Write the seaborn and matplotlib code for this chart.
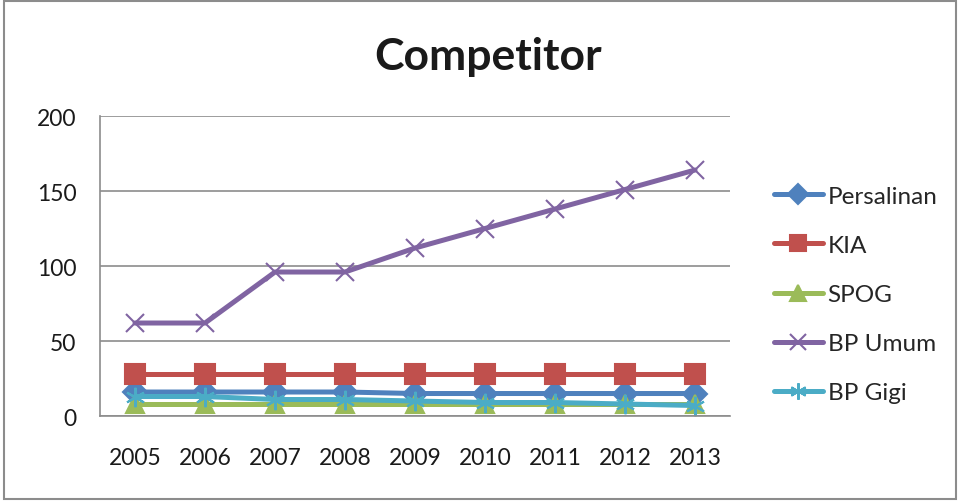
import matplotlib
matplotlib.use("Agg")
import matplotlib.pyplot as plt
import seaborn as sns
import pandas as pd
from matplotlib.patches import Rectangle

years = ["2005", "2006", "2007", "2008", "2009", "2010", "2011", "2012", "2013"]
persalinan = [16, 16, 16, 16, 15, 15, 15, 15, 15]
kia = [28, 28, 28, 28, 28, 28, 28, 28, 28]
spog = [8, 8, 8, 8, 8, 8, 8, 8, 8]
bp_umum = [62, 62, 96, 96, 112, 125, 138, 151, 164]
bp_gigi = [13, 13, 11, 11, 10, 9, 9, 8, 7]

series = [
    ("Persalinan", persalinan, "#4F81BD", "D", 12),
    ("KIA", kia, "#C0504D", "s", 14),
    ("SPOG", spog, "#9BBB59", "^", 13),
    ("BP Umum", bp_umum, "#8064A2", "x", 13),
    ("BP Gigi", bp_gigi, "#4BACC6", (6, 2, 0), 14),
]

sns.set_theme(style="white")
plt.rcParams["font.family"] = ["Lato", "DejaVu Sans"]

fig = plt.figure(figsize=(9.58, 5.02), dpi=100)
ax = fig.add_axes([0.1044, 0.1693, 0.6576, 0.5976])

for name, vals, color, marker, ms in series:
    df = pd.DataFrame({"year": years, "value": vals})
    sns.lineplot(data=df, x="year", y="value", ax=ax, color=color, lw=3.6,
                 marker=marker, markersize=ms, markeredgecolor=color,
                 markeredgewidth=1.5, label=name, sort=False)

ax.set_ylim(0, 200)
ax.set_xlim(-0.5, 8.5)
ax.set_yticks([0, 50, 100, 150, 200])
ax.yaxis.grid(True, color="#8c8c8c", lw=1.2)
ax.set_axisbelow(True)
for side in ["top", "right"]:
    ax.spines[side].set_visible(False)
for side in ["left", "bottom"]:
    ax.spines[side].set_color("#8c8c8c")
    ax.spines[side].set_linewidth(1.2)
ax.tick_params(axis="both", length=0, labelsize=16.5, colors="#1a1a1a")
ax.tick_params(axis="y", pad=17)
ax.tick_params(axis="x", pad=22)
ax.set_xlabel("")
ax.set_ylabel("")

fig.text(0.509, 0.886, "Competitor", ha="center", va="center",
         fontsize=32, fontweight="bold", color="#1a1a1a")

handles, labels = ax.get_legend_handles_labels()
ax.legend(handles, labels, loc="center left", bbox_to_anchor=(1.07, 0.405),
          frameon=False, fontsize=17.5, handlelength=2.0, handletextpad=0.2,
          labelspacing=1.16, borderaxespad=0, borderpad=0, markerscale=0.85)

fig.patches.append(Rectangle((0.004, 0.004), 0.994, 0.992, transform=fig.transFigure,
                             fill=False, edgecolor="#8c8c8c", lw=1.5))

fig.savefig("out.png", dpi=100)
